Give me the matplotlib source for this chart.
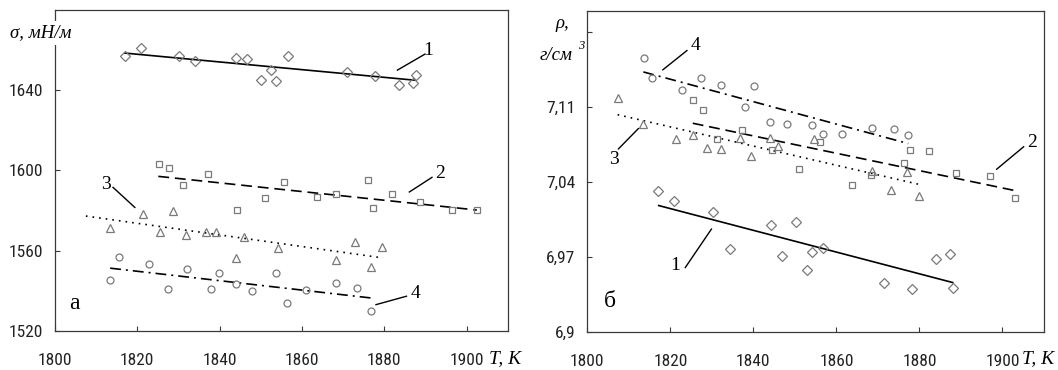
import matplotlib
matplotlib.use("Agg")
import matplotlib.pyplot as plt
from matplotlib import font_manager

# ---------------- data: panel a (surface tension) ----------------
sig1_T = [1817.0, 1820.8, 1830.2, 1834.1, 1844.0, 1846.6, 1850.0, 1852.5, 1853.8, 1856.5, 1871.0, 1877.7, 1883.7, 1886.9, 1887.6]
sig1 = [1657.2, 1660.8, 1657.2, 1654.8, 1656.3, 1655.7, 1645.0, 1650.2, 1644.5, 1657.0, 1649.2, 1647.2, 1642.5, 1643.7, 1647.7]
sig2_T = [1825.3, 1827.8, 1831.0, 1837.1, 1844.3, 1851.0, 1855.6, 1863.6, 1868.3, 1876.1, 1877.3, 1881.9, 1888.7, 1896.5, 1902.5]
sig2 = [1603.3, 1601.2, 1592.5, 1598.3, 1580.0, 1586.3, 1594.0, 1586.8, 1588.2, 1595.3, 1581.3, 1588.2, 1584.2, 1580.0, 1580.3]
sig3_T = [1813.4, 1821.3, 1825.4, 1828.6, 1831.9, 1836.6, 1839.2, 1843.9, 1845.9, 1854.3, 1868.3, 1872.9, 1876.8, 1879.4]
sig3 = [1571.0, 1578.2, 1569.3, 1579.8, 1567.5, 1569.2, 1569.3, 1556.3, 1566.7, 1561.5, 1555.3, 1564.2, 1552.0, 1561.7]
sig4_T = [1813.4, 1815.5, 1822.8, 1827.4, 1832.1, 1837.8, 1839.9, 1844.0, 1847.9, 1853.7, 1856.4, 1861.0, 1868.3, 1873.4, 1876.9]
sig4 = [1545.5, 1556.8, 1553.5, 1540.7, 1551.0, 1541.0, 1548.8, 1543.3, 1540.0, 1548.8, 1534.0, 1540.5, 1543.7, 1541.3, 1530.0]

sig_fit1_T = [1817.0, 1887.3]
sig_fit1 = [1658.5, 1645.0]
sig_fit2_T = [1825.1, 1902.5]
sig_fit2 = [1597.0, 1580.2]
sig_fit3_T = [1807.5, 1879.7]
sig_fit3 = [1577.2, 1556.3]
sig_fit4_T = [1813.4, 1876.9]
sig_fit4 = [1551.2, 1536.3]

sig_yticks = [1520, 1560, 1600, 1640]
sig_yticklabels = ["1520", "1560", "1600", "1640"]

# ---------------- data: panel b (density) ----------------
rho1_T = [1817.0, 1821.0, 1830.2, 1834.4, 1844.2, 1846.9, 1850.2, 1852.8, 1854.1, 1856.8, 1871.5, 1878.1, 1884.0, 1887.3, 1888.0]
rho1 = [7.032, 7.022, 7.012, 6.977, 7.000, 6.971, 7.003, 6.958, 6.975, 6.978, 6.946, 6.940, 6.968, 6.973, 6.941]
rho2_T = [1825.4, 1827.9, 1831.3, 1837.2, 1844.5, 1851.0, 1856.0, 1863.8, 1868.4, 1876.4, 1877.7, 1882.3, 1888.9, 1897.0, 1903.0]
rho2 = [7.117, 7.107, 7.080, 7.089, 7.070, 7.052, 7.077, 7.037, 7.047, 7.058, 7.070, 7.069, 7.048, 7.046, 7.025]
rho3_T = [1807.5, 1813.5, 1821.4, 1825.4, 1828.9, 1832.1, 1836.7, 1839.4, 1844.0, 1846.0, 1854.7, 1868.6, 1873.2, 1877.1, 1879.9]
rho3 = [7.119, 7.094, 7.080, 7.084, 7.072, 7.071, 7.081, 7.064, 7.081, 7.074, 7.080, 7.050, 7.033, 7.049, 7.027]
rho4_T = [1813.6, 1815.7, 1822.9, 1827.4, 1832.3, 1838.1, 1840.1, 1844.0, 1848.1, 1854.1, 1856.7, 1861.3, 1868.6, 1873.9, 1877.2]
rho4 = [7.156, 7.137, 7.126, 7.137, 7.131, 7.110, 7.130, 7.096, 7.094, 7.093, 7.085, 7.085, 7.091, 7.090, 7.084]

rho_fit1_T = [1817.2, 1888.0]
rho_fit1 = [7.018, 6.946]
rho_fit2_T = [1825.4, 1903.0]
rho_fit2 = [7.095, 7.032]
rho_fit3_T = [1807.3, 1879.7]
rho_fit3 = [7.103, 7.038]
rho_fit4_T = [1813.5, 1877.3]
rho_fit4 = [7.143, 7.076]

rho_yticks = [6.90, 6.97, 7.04, 7.11, 7.18]
rho_yticklabels = ["6,9", "6,97", "7,04", "7,11", ""]

x_ticks = [1800, 1820, 1840, 1860, 1880, 1900]
x_ticklabels = ["1800", "1820", "1840", "1860", "1880", "1900"]

# ---------------- styling ----------------
avail = {f.name for f in font_manager.fontManager.ttflist}
tick_family, tick_size = "Liberation Sans", 11
for fam, sz in (("Liberation Sans Narrow", 13), ("Arial Narrow", 13),
                ("Roboto Condensed", 12.5), ("Archivo Narrow", 12.5)):
    if fam in avail:
        tick_family, tick_size = fam, sz
        break
serif = "Liberation Serif"

spine_c = "#3a3a3a"
mk_c = "#7a7a7a"
W, H = 1058, 370

fig = plt.figure(figsize=(W / 100, H / 100), dpi=100)
axL = fig.add_axes([55 / W, 1 - 330.7 / H, (507.7 - 55) / W, (330.7 - 10) / H])
axR = fig.add_axes([587.3 / W, 1 - 331.7 / H, (1044 - 587.3) / W, (331.7 - 11) / H])

mk = dict(linestyle="none", markerfacecolor="none", markeredgecolor=mk_c,
          markeredgewidth=0.9, zorder=3)
ln = dict(color="black", linewidth=1.2, zorder=2)
dash_style = dict(linestyle=(0, (6.5, 3.5)))
dot_style = dict(linestyle=(0, (1.0, 3.0)))
dashdot_style = dict(linestyle=(0, (6.5, 3.0, 1.2, 3.0)))


def draw(ax, T1, y1, T2, y2, T3, y3, T4, y4, f1, f2, f3, f4):
    ax.plot(T1, y1, marker="D", markersize=4.6, **mk)
    ax.plot(T2, y2, marker="s", markersize=5.0, **mk)
    ax.plot(T3, y3, marker="^", markersize=5.6, **mk)
    ax.plot(T4, y4, marker="o", markersize=5.0, **mk)
    ax.plot(f1[0], f1[1], linestyle="-", **ln)
    ax.plot(f2[0], f2[1], **dash_style, **ln)
    ax.plot(f3[0], f3[1], **dot_style, **ln)
    ax.plot(f4[0], f4[1], **dashdot_style, **ln)


draw(axL, sig1_T, sig1, sig2_T, sig2, sig3_T, sig3, sig4_T, sig4,
     (sig_fit1_T, sig_fit1), (sig_fit2_T, sig_fit2), (sig_fit3_T, sig_fit3), (sig_fit4_T, sig_fit4))
draw(axR, rho1_T, rho1, rho2_T, rho2, rho3_T, rho3, rho4_T, rho4,
     (rho_fit1_T, rho_fit1), (rho_fit2_T, rho_fit2), (rho_fit3_T, rho_fit3), (rho_fit4_T, rho_fit4))

axL.set_xlim(1800, 1910)
axL.set_ylim(1520, 1680)
axR.set_xlim(1800, 1910)
axR.set_ylim(6.9, 7.2)

for ax, yt, ytl in ((axL, sig_yticks, sig_yticklabels), (axR, rho_yticks, rho_yticklabels)):
    ax.set_xticks(x_ticks)
    ax.set_xticklabels(x_ticklabels, fontfamily=tick_family, fontsize=tick_size, color="#222222")
    ax.set_yticks(yt)
    ax.set_yticklabels(ytl, fontfamily=tick_family, fontsize=tick_size, color="#222222")
    ax.tick_params(axis="both", direction="in", length=3.5, width=0.8, color=spine_c)
    ax.tick_params(axis="x", pad=16)
    ax.tick_params(axis="y", pad=8.5)
    for s in ax.spines.values():
        s.set_color(spine_c)
        s.set_linewidth(0.9)


def leader(ax, p0, p1, label, tp, size=14):
    ax.plot([p0[0], p1[0]], [p0[1], p1[1]], color="black", linewidth=1.0, zorder=4)
    ax.text(tp[0], tp[1], label, fontfamily=serif, fontsize=size,
            ha="center", va="center", zorder=5)


# panel a annotations
leader(axL, (1883.2, 1650.0), (1889.9, 1658.0), "1", (1890.6, 1660.0))
leader(axL, (1886.1, 1589.2), (1891.6, 1596.5), "2", (1893.6, 1598.2))
leader(axL, (1819.4, 1581.5), (1814.1, 1591.5), "3", (1812.4, 1593.0))
leader(axL, (1878.0, 1533.0), (1885.4, 1537.2), "4", (1887.6, 1538.4))
axL.text(1804.6, 1533.5, "а", fontfamily=serif, fontsize=17, ha="center", va="center")

# panel b annotations
leader(axR, (1818.2, 7.145), (1824.0, 7.163), "4", (1826.1, 7.168))
leader(axR, (1898.6, 7.052), (1905.1, 7.073), "2", (1907.1, 7.077))
leader(axR, (1812.3, 7.090), (1807.5, 7.071), "3", (1806.3, 7.061))
leader(axR, (1829.9, 6.996), (1823.6, 6.960), "1", (1821.2, 6.962))
axR.text(1805.5, 6.928, "б", fontfamily=serif, fontsize=17, ha="center", va="center")

# axis labels
fig.text(41 / W, 1 - 33 / H, "σ, мН/м", fontfamily=serif, style="italic", fontsize=13.5,
         ha="center", va="center", zorder=10,
         bbox=dict(facecolor="white", edgecolor="none", pad=2.5))
fig.text(562 / W, 1 - 23 / H, "ρ,", fontfamily=serif, style="italic", fontsize=13.5,
         ha="center", va="center")
fig.text(556 / W, 1 - 55 / H, "г/см", fontfamily=serif, style="italic", fontsize=13.5,
         ha="center", va="center")
fig.text(581 / W, 1 - 46 / H, "3", fontfamily=serif, style="italic", fontsize=9,
         ha="center", va="center")
fig.text(489 / W, 1 - 359 / H, "T, K", fontfamily=serif, style="italic", fontsize=14,
         ha="left", va="center")
fig.text(1022 / W, 1 - 359 / H, "T, K", fontfamily=serif, style="italic", fontsize=14,
         ha="left", va="center")

fig.savefig("out.png", dpi=100, facecolor="white")
